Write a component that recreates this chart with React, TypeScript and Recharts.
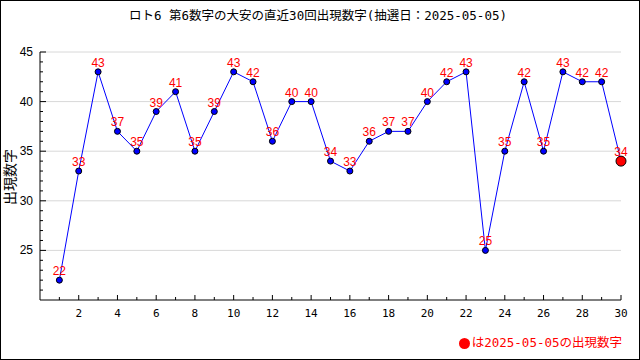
import React from 'react';
import { LineChart, Line, XAxis, YAxis, CartesianGrid, LabelList } from 'recharts';

const draws = [1, 2, 3, 4, 5, 6, 7, 8, 9, 10, 11, 12, 13, 14, 15, 16, 17, 18, 19, 20, 21, 22, 23, 24, 25, 26, 27, 28, 29, 30];
const values = [22, 33, 43, 37, 35, 39, 41, 35, 39, 43, 42, 36, 40, 40, 34, 33, 36, 37, 37, 40, 42, 43, 25, 35, 42, 35, 43, 42, 42, 34];
const xTicks = [1, 2, 3, 4, 5, 6, 7, 8, 9, 10, 11, 12, 13, 14, 15, 16, 17, 18, 19, 20, 21, 22, 23, 24, 25, 26, 27, 28, 29, 30];
const yTicks = [20, 21, 22, 23, 24, 25, 26, 27, 28, 29, 30, 31, 32, 33, 34, 35, 36, 37, 38, 39, 40, 41, 42, 43, 44, 45];
const yGridValues = [25, 30, 35, 40, 45];

const title = 'ロト6 第6数字の大安の直近30回出現数字(抽選日：2025-05-05)';
const yLabel = '出現数字';
const legendText = 'は2025-05-05の出現数字';

const data = draws.map((d, i) => ({ draw: d, value: values[i] }));

const MONO = '"DejaVu Sans Mono", "Noto Sans CJK JP", monospace';
const SANS = '"Liberation Sans", Arial, sans-serif';

const XTick = (props: any) => {
  const { x, y, payload } = props;
  const v = payload.value as number;
  const major = v % 2 === 0;
  return (
    <g>
      <line x1={x} x2={x} y1={y} y2={y - (major ? 5 : 3)} stroke="#000" strokeWidth={1} />
      {major && (
        <text x={x} y={y + 17} textAnchor="middle" fontSize={11} fontFamily={MONO} fill="#000">
          {v}
        </text>
      )}
    </g>
  );
};

const YTick = (props: any) => {
  const { x, y, payload } = props;
  const v = payload.value as number;
  const major = v % 5 === 0;
  if (v === 20) return <g />;
  return (
    <g>
      <line x1={x} x2={x + (major ? 6 : 3)} y1={y} y2={y} stroke="#000" strokeWidth={1} />
      {major && (
        <text x={x - 7} y={y + 4} textAnchor="end" fontSize={12} fontFamily={SANS} fill="#000">
          {v}
        </text>
      )}
    </g>
  );
};

const Dot = (props: any) => {
  const { cx, cy, index } = props;
  const last = index === values.length - 1;
  return (
    <circle
      key={`d${index}`}
      cx={cx}
      cy={cy}
      r={last ? 5 : 3}
      fill={last ? '#ff0000' : '#0000ff'}
      stroke="#000"
      strokeWidth={1}
    />
  );
};

export default function App() {
  return (
    <div style={{ position: 'relative', width: 640, height: 360, background: '#fff' }}>
      <style>{'body{margin:0}'}</style>
      <LineChart width={640} height={360} data={data} margin={{ top: 52, right: 19, left: 0, bottom: 0 }}>
        <CartesianGrid vertical={false} horizontalValues={yGridValues} stroke="#d8d8d8" />
        <XAxis
          dataKey="draw"
          type="number"
          domain={[0, 30]}
          ticks={xTicks}
          interval={0}
          height={60}
          tickSize={0}
          tickMargin={0}
          tickLine={false}
          axisLine={{ stroke: '#000' }}
          tick={<XTick />}
        />
        <YAxis
          type="number"
          domain={[20, 45]}
          ticks={yTicks}
          interval={0}
          width={40}
          tickSize={0}
          tickMargin={0}
          tickLine={false}
          axisLine={{ stroke: '#000' }}
          tick={<YTick />}
        />
        <Line
          dataKey="value"
          stroke="#0000ff"
          strokeWidth={1}
          dot={<Dot />}
          activeDot={false}
          isAnimationActive={false}
        >
          <LabelList dataKey="value" position="top" offset={5} fill="#ff0000" fontSize={12} fontFamily={SANS} />
        </Line>
      </LineChart>
      <div
        style={{
          position: 'absolute',
          top: 7,
          left: 0,
          width: 636,
          textAlign: 'center',
          fontFamily: MONO,
          fontSize: 12.5,
          lineHeight: '18px',
          color: '#000',
          whiteSpace: 'nowrap',
        }}
      >
        {title}
      </div>
      <div
        style={{
          position: 'absolute',
          left: 9,
          top: 177,
          transform: 'translate(-50%, -50%) rotate(-90deg)',
          fontFamily: '"Noto Sans CJK JP", sans-serif',
          fontSize: 14,
          lineHeight: '16px',
          whiteSpace: 'nowrap',
          color: '#000',
        }}
      >
        {yLabel}
      </div>
      <div
        style={{
          position: 'absolute',
          right: 18,
          top: 334,
          fontFamily: MONO,
          fontSize: 12.5,
          lineHeight: '18px',
          color: '#ff0000',
          whiteSpace: 'nowrap',
          display: 'flex',
          alignItems: 'center',
        }}
      >
        <span
          style={{
            display: 'inline-block',
            width: 11,
            height: 11,
            borderRadius: '50%',
            background: '#ff0000',
            marginRight: 2,
          }}
        />
        {legendText}
      </div>
      <div
        style={{
          position: 'absolute',
          inset: 0,
          border: '1px solid #000',
          boxSizing: 'border-box',
          pointerEvents: 'none',
        }}
      />
    </div>
  );
}
